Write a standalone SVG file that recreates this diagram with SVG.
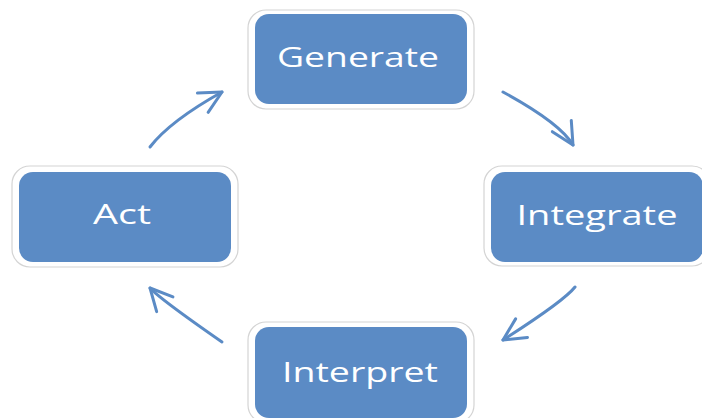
<svg xmlns="http://www.w3.org/2000/svg" width="702" height="418" viewBox="0 0 702 418">
<style>
.frame{fill:#ffffff;stroke:#d4d4d4;stroke-width:1.2}
.box{fill:#5b8bc5}
.lbl{fill:#ffffff;font-family:"Open Sans","Liberation Sans",sans-serif;font-size:28px;text-anchor:middle}
.arr{fill:none;stroke:#5b8bc5;stroke-width:3;stroke-linecap:round;marker-end:url(#head)}
</style>
<defs>
<marker id="head" markerUnits="userSpaceOnUse" markerWidth="40" markerHeight="40" refX="0" refY="0" viewBox="-30 -20 40 40" orient="auto" overflow="visible">
<path d="M-22,-11 L0,0 L-22,11" fill="none" stroke="#5b8bc5" stroke-width="3" stroke-linecap="round" stroke-linejoin="round"/>
</marker>
</defs>
<rect width="702" height="418" fill="#ffffff"/>
<g id="connectors">
<path class="arr" d="M150,147 Q170,121 222,92"/>
<path class="arr" d="M503,92 Q560,123 573,145"/>
<path class="arr" d="M575,287 Q564,301 503,340"/>
<path class="arr" d="M222,342 Q160,299 150,288"/>
</g>
<g id="node-generate">
<rect class="frame" x="248" y="10" width="226" height="99" rx="18"/>
<rect class="box" x="255" y="14" width="212" height="90" rx="14"/>
<text class="lbl" x="358" y="67" textLength="162" lengthAdjust="spacingAndGlyphs">Generate</text>
</g>
<g id="node-integrate">
<rect class="frame" x="484" y="166" width="226" height="100" rx="18"/>
<rect class="box" x="491" y="172" width="212" height="90" rx="14"/>
<text class="lbl" x="597" y="225" textLength="161" lengthAdjust="spacingAndGlyphs">Integrate</text>
</g>
<g id="node-interpret">
<rect class="frame" x="248" y="322" width="226" height="101" rx="18"/>
<rect class="box" x="255" y="327" width="212" height="91" rx="14"/>
<text class="lbl" x="360" y="382" textLength="156" lengthAdjust="spacingAndGlyphs">Interpret</text>
</g>
<g id="node-act">
<rect class="frame" x="12" y="166" width="226" height="101" rx="18"/>
<rect class="box" x="19" y="172" width="212" height="90" rx="14"/>
<text class="lbl" x="122" y="224" textLength="58" lengthAdjust="spacingAndGlyphs">Act</text>
</g>
</svg>
